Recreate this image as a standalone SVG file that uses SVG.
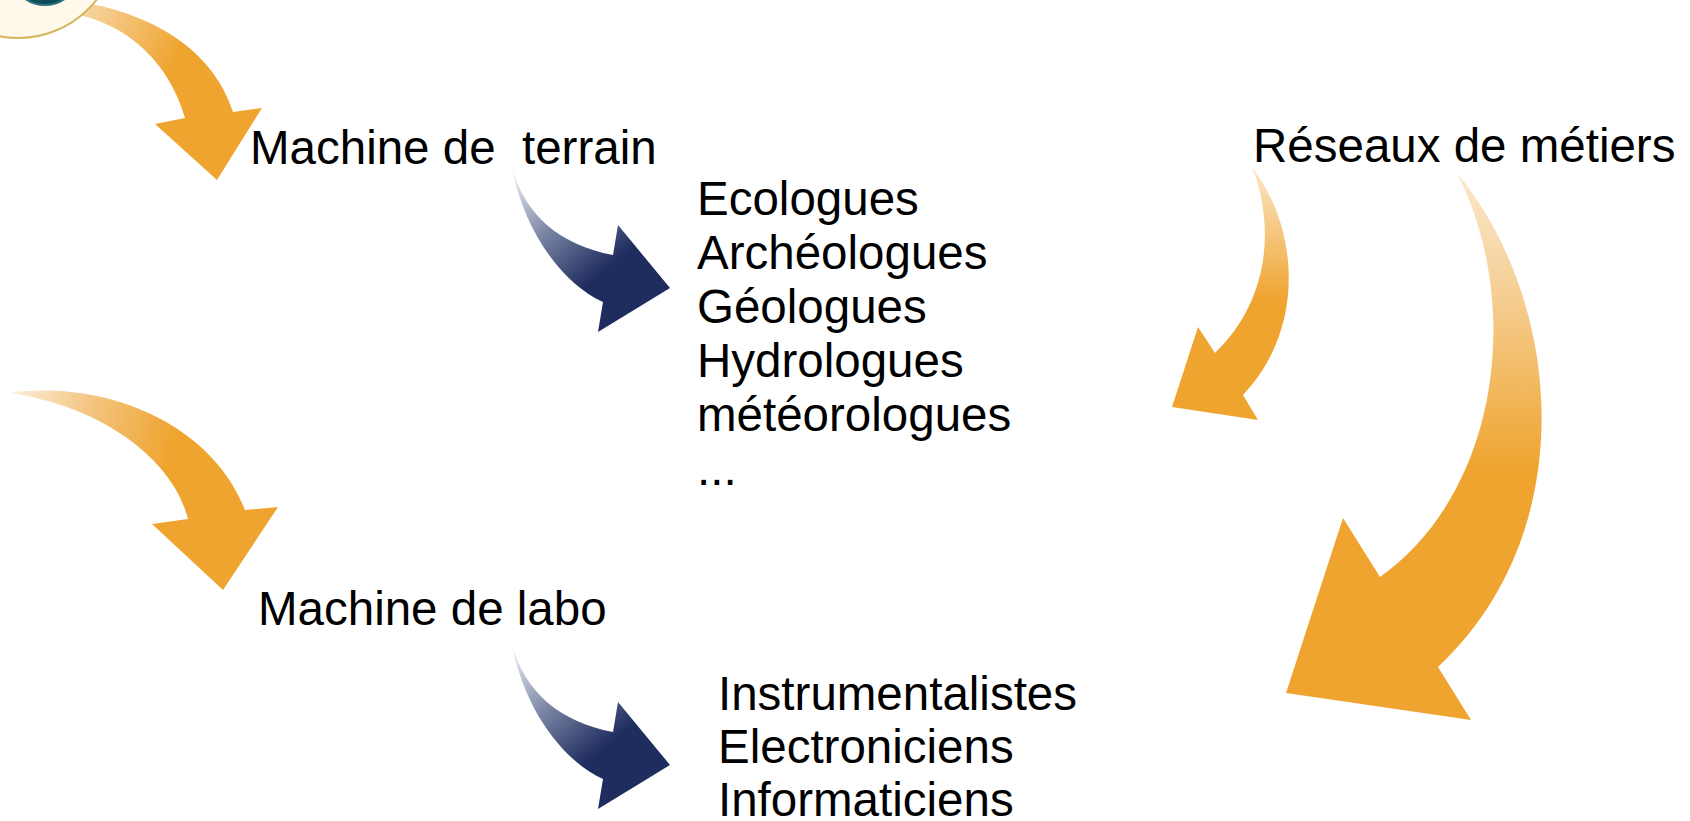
<svg xmlns="http://www.w3.org/2000/svg" width="1690" height="821" viewBox="0 0 1690 821">
  <style>
    .lbl { font-family: "Liberation Sans", Arial, sans-serif; font-size: 47.5px; fill: #000000; }
  </style>
  <defs>
    <linearGradient id="gOr1" gradientUnits="userSpaceOnUse" x1="85" y1="10" x2="180" y2="50">
      <stop offset="0" stop-color="#F7D5A0"/>
      <stop offset="1" stop-color="#EFA42F"/>
    </linearGradient>
    <linearGradient id="gOr2" gradientUnits="userSpaceOnUse" x1="10" y1="392" x2="175" y2="430">
      <stop offset="0" stop-color="#FDF0DE"/>
      <stop offset="0.45" stop-color="#F4C786"/>
      <stop offset="1" stop-color="#EFA42F"/>
    </linearGradient>
    <linearGradient id="gOr3" gradientUnits="userSpaceOnUse" x1="0" y1="170" x2="0" y2="300">
      <stop offset="0" stop-color="#FBE6C8"/>
      <stop offset="1" stop-color="#EFA42F"/>
    </linearGradient>
    <linearGradient id="gOr4" gradientUnits="userSpaceOnUse" x1="0" y1="175" x2="0" y2="470">
      <stop offset="0" stop-color="#FBE8CC"/>
      <stop offset="0.35" stop-color="#F6D29C"/>
      <stop offset="1" stop-color="#EFA42F"/>
    </linearGradient>
    <linearGradient id="gBl" gradientUnits="userSpaceOnUse" x1="512" y1="170" x2="600" y2="275">
      <stop offset="0" stop-color="#F2F4F8"/>
      <stop offset="0.5" stop-color="#7C87A6"/>
      <stop offset="1" stop-color="#1F2C5E"/>
    </linearGradient>
    <linearGradient id="gBl2" gradientUnits="userSpaceOnUse" x1="512" y1="647" x2="600" y2="752">
      <stop offset="0" stop-color="#F2F4F8"/>
      <stop offset="0.5" stop-color="#7C87A6"/>
      <stop offset="1" stop-color="#1F2C5E"/>
    </linearGradient>
  </defs>

  <g id="connectors">
    <path id="arrow-start-terrain" fill="url(#gOr1)" d="M 80,2 C 160,15 215,55 233,112 L 262,108 L 217,180 L 155,124 L 185,118 C 170,65 130,25 75,14 Z"/>
    <path id="arrow-to-labo" fill="url(#gOr2)" d="M 10,393 C 100,380 210,420 245,510 L 278,507 L 223,590 L 152,524 L 188,519 C 175,465 110,408 10,393 Z"/>
    <path id="arrow-terrain-list" fill="url(#gBl)" d="M 512,168 C 525,215 560,245 613,255 L 618,225 L 670,288 L 598,332 L 603,302 C 565,285 525,235 512,168 Z"/>
    <path id="arrow-labo-list" fill="url(#gBl2)" d="M 512,645 C 525,692 560,722 613,732 L 618,702 L 670,765 L 598,809 L 603,779 C 565,762 525,712 512,645 Z"/>
    <path id="arrow-reseaux-small" fill="url(#gOr3)" d="M 1252,167 C 1300,230 1305,330 1243,395 L 1258,420 L 1172,407 L 1198,327 L 1215,353 C 1270,300 1275,225 1252,167 Z"/>
    <path id="arrow-reseaux-big" fill="url(#gOr4)" d="M 1457,173 C 1562,300 1584,530 1438,667 L 1471,720 L 1286,693 L 1343,518 L 1380,577 C 1502,490 1522,300 1457,173 Z"/>
  </g>

  <g id="node-origin">
    <circle cx="18" cy="-62" r="100" fill="#FEF9EB" stroke="#D6B761" stroke-width="2"/>
    <circle cx="45" cy="-30" r="35" fill="#0E4C5C" stroke="#2F7483" stroke-width="2"/>
  </g>

  <g id="node-terrain">
    <text class="lbl" x="250" y="164" xml:space="preserve">Machine de  terrain</text>
  </g>

  <g id="node-terrain-metiers">
    <text class="lbl" x="697" y="215">Ecologues</text>
    <text class="lbl" x="697" y="269">Archéologues</text>
    <text class="lbl" x="697" y="323">Géologues</text>
    <text class="lbl" x="697" y="377">Hydrologues</text>
    <text class="lbl" x="697" y="431">météorologues</text>
    <text class="lbl" x="697" y="485">...</text>
  </g>

  <g id="node-labo">
    <text class="lbl" x="258" y="625">Machine de labo</text>
  </g>

  <g id="node-labo-metiers">
    <text class="lbl" x="718" y="710">Instrumentalistes</text>
    <text class="lbl" x="718" y="763">Electroniciens</text>
    <text class="lbl" x="718" y="816">Informaticiens</text>
  </g>

  <g id="node-reseaux">
    <text class="lbl" x="1253" y="162">Réseaux de métiers</text>
  </g>
</svg>
